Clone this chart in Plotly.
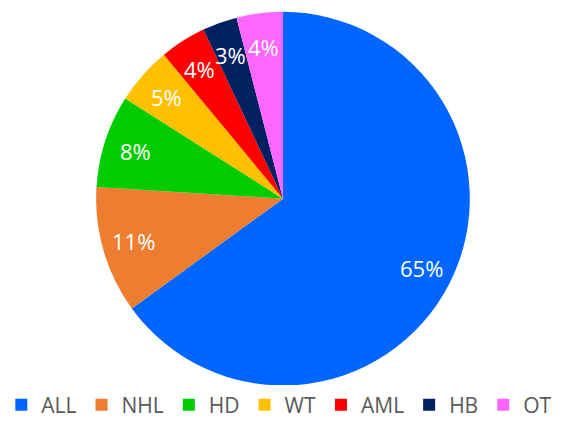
import math
import plotly.graph_objects as go

labels = ["ALL", "NHL", "HD", "WT", "AML", "HB", "OT"]
values = [65, 11, 8, 5, 4, 3, 4]
colors = ["#0066FF", "#ED7D31", "#00CC00", "#FFC000", "#FF0000", "#002060", "#FF66FF"]

W, H = 562, 426
dom_x = [0.007, 1.0]
dom_y = [35 / H, 414 / H]

fig = go.Figure(go.Pie(
    labels=labels, values=values, sort=False, direction="clockwise", rotation=0,
    marker=dict(colors=colors, line=dict(width=0)),
    textinfo="none",
    domain=dict(x=dom_x, y=dom_y),
    hoverinfo="label+percent",
))

# percentage labels placed along each slice's mid-angle
cx = (dom_x[0] + dom_x[1]) / 2 * W
cy = (dom_y[0] + dom_y[1]) / 2 * H
R = min((dom_x[1] - dom_x[0]) * W, (dom_y[1] - dom_y[0]) * H) / 2
total = sum(values)
cum = 0
for lab, v in zip(labels, values):
    mid = (cum + v / 2) / total * 2 * math.pi
    cum += v
    r = 0.82 * R
    px = cx + r * math.sin(mid)
    py = cy + r * math.cos(mid)
    fig.add_annotation(x=px / W, y=py / H, xref="paper", yref="paper",
                       xanchor="center", yanchor="middle",
                       text=f"{round(v / total * 100)}%", showarrow=False,
                       font=dict(color="white", size=22, family="Open Sans"))

fig.update_layout(
    width=W, height=H, margin=dict(l=0, r=0, t=0, b=0),
    paper_bgcolor="white", plot_bgcolor="white",
    showlegend=True,
    legend=dict(orientation="h", x=0.497, xanchor="center", y=15 / H, yanchor="middle",
                font=dict(size=21, color="#595959", family="Open Sans"),
                itemwidth=30, traceorder="normal"),
)
fig.write_html("out.html")
